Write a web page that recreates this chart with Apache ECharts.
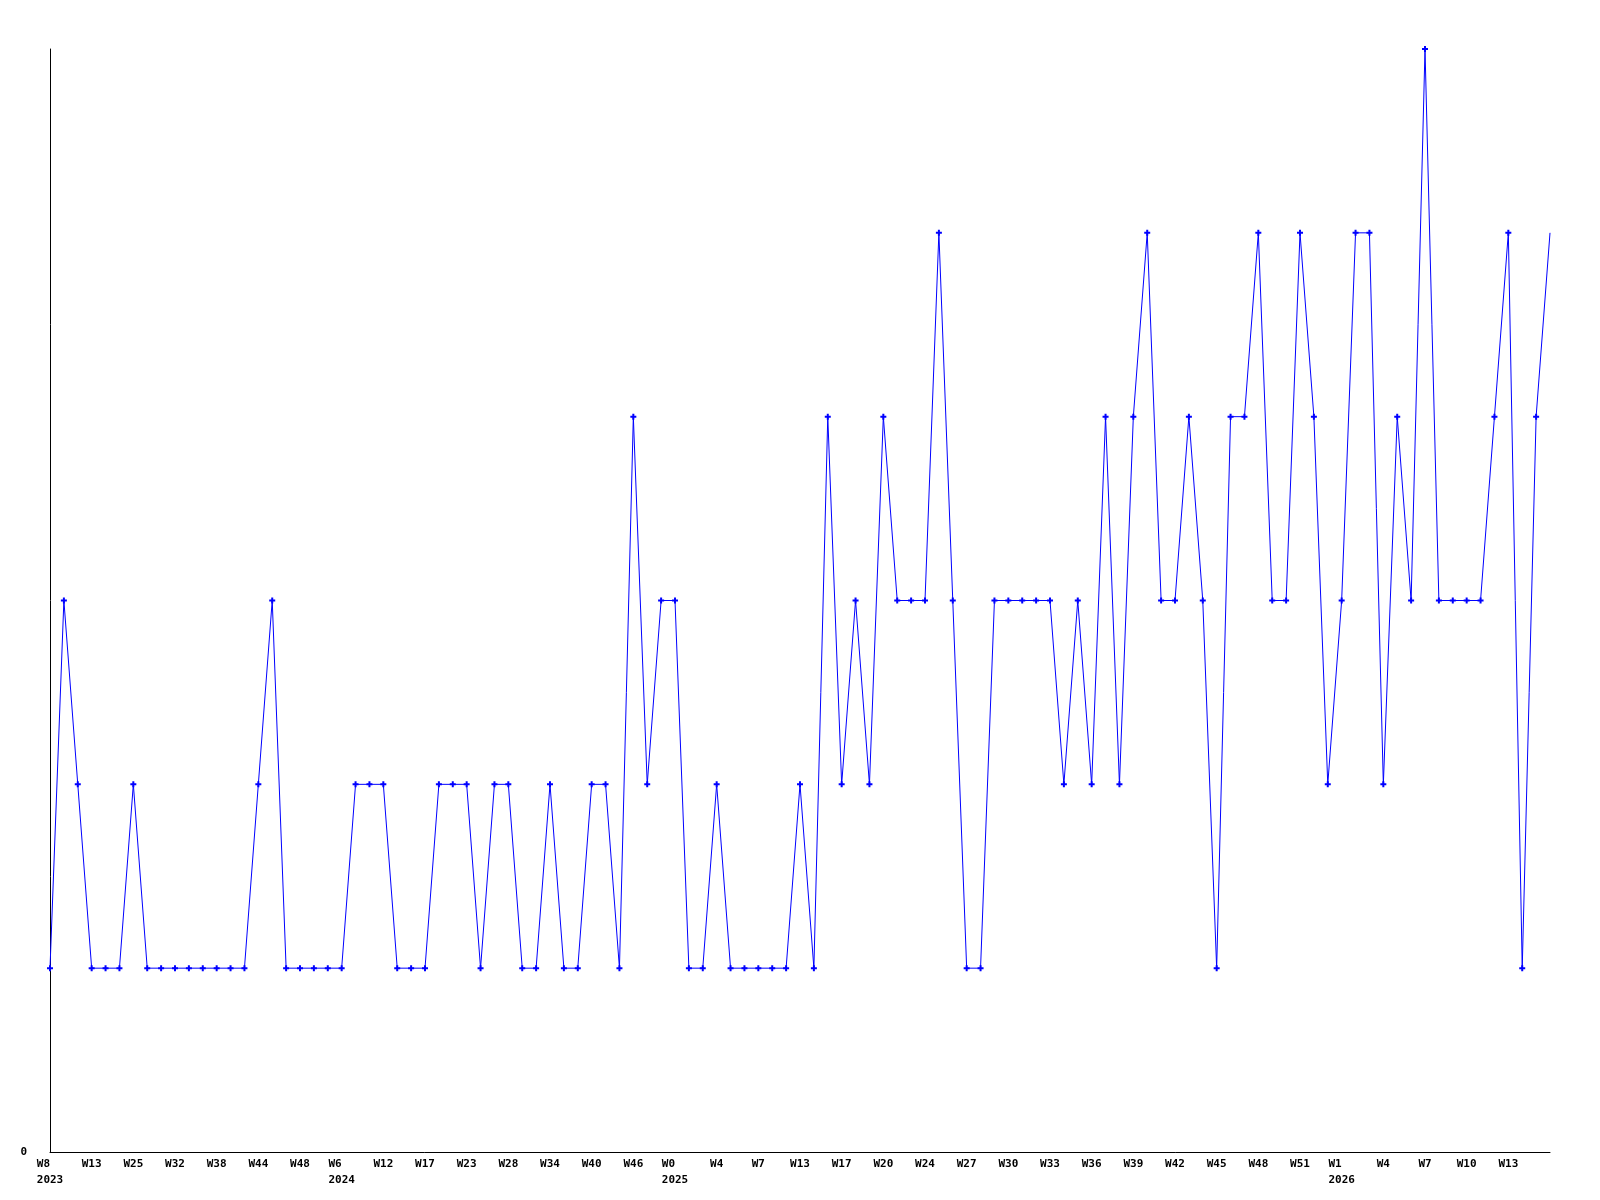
<!DOCTYPE html>
<html>
<head>
<meta charset="utf-8">
<script src="https://cdn.jsdelivr.net/npm/echarts@6/dist/echarts.min.js"></script>
<style>html,body{margin:0;padding:0;background:#fff}#c{width:1600px;height:1200px}</style>
</head>
<body>
<div id="c"></div>
<script>
// Tick labels shown every 3rd point (week label, year on first label of a new year)
const tickLabels = ['W8','W13','W25','W32','W38','W44','W48','W6','W12','W17','W23','W28','W34','W40','W46','W0','W4','W7','W13','W17','W20','W24','W27','W30','W33','W36','W39','W42','W45','W48','W51','W1','W4','W7','W10','W13'];
const tickYears = {0:'2023', 7:'2024', 15:'2025', 31:'2026'};
// Series values (109 weekly points)
const values = [
  1,3,2,1,1,1,2,1,1,1,1,1,1,1,1,2,3,1,1,1,
  1,1,2,2,2,1,1,1,2,2,2,1,2,2,1,1,2,1,1,2,
  2,1,4,2,3,3,1,1,2,1,1,1,1,1,2,1,4,2,3,2,
  4,3,3,3,5,3,1,1,3,3,3,3,3,2,3,2,4,2,4,5,
  3,3,4,3,1,4,4,5,3,3,5,4,2,3,5,5,2,4,3,6,
  3,3,3,3,4,5,1,4,5
];
const categories = values.map((v, i) => (i % 3 === 0 ? (tickLabels[i / 3] || '') + '|' + (tickYears[i / 3] || '') : ''));
const seriesData = values.map((v, i) => i === values.length - 1 ? {value: v, symbol: 'none'} : v);

const chart = echarts.init(document.getElementById('c'), null, {renderer: 'canvas'});
chart.setOption({
  animation: false,
  backgroundColor: '#ffffff',
  grid: {left: 50, right: 50, top: 49, bottom: 48, containLabel: false},
  xAxis: {
    type: 'category',
    data: categories,
    boundaryGap: false,
    axisLine: {show: true, lineStyle: {color: '#000', width: 1}},
    axisTick: {show: false},
    splitLine: {show: false},
    axisLabel: {
      interval: 2,
      margin: 4,
      fontFamily: 'DejaVu Sans Mono',
      fontWeight: 'bold',
      fontSize: 11,
      lineHeight: 16,
      color: '#000',
      align: 'center',
      formatter: function (val) {
        const parts = val.split('|');
        if (!parts[1]) return parts[0];
        let w = parts[0];
        while (w.length < parts[1].length) w += ' ';
        return w + '\n' + parts[1];
      }
    }
  },
  yAxis: {
    type: 'value',
    min: 0,
    max: 6,
    interval: 6,
    axisLine: {show: true, lineStyle: {color: '#000', width: 1}},
    axisTick: {show: false},
    splitLine: {show: false},
    axisLabel: {
      margin: 23,
      fontFamily: 'DejaVu Sans Mono',
      fontWeight: 'bold',
      fontSize: 11,
      color: '#000',
      formatter: function (v) { return v === 0 ? '0' : ''; }
    }
  },
  series: [{
    type: 'line',
    data: seriesData,
    symbol: 'path://M2,0H4V2H6V4H4V6H2V4H0V2H2Z',
    symbolSize: 6,
    showAllSymbol: true,
    lineStyle: {color: '#0000ff', width: 1},
    itemStyle: {color: '#0000ff'},
    emphasis: {disabled: true}
  }]
});
</script>
</body>
</html>
